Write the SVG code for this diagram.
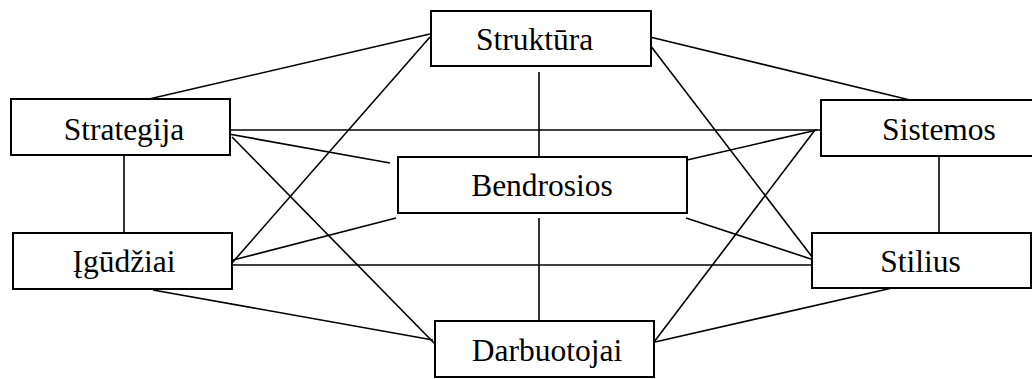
<svg xmlns="http://www.w3.org/2000/svg" width="1032" height="379" viewBox="0 0 1032 379">
<style>
.box{fill:#fff;stroke:#000;stroke-width:2}
.lbl{font-family:'Liberation Serif','Times New Roman',Times,'DejaVu Serif',serif;font-size:31.5px;fill:#000;text-anchor:middle}
.conn line{stroke:#000;stroke-width:1.6}
</style>
<rect width="1032" height="379" fill="#fff"/>
<g id="connectors" class="conn">
<line x1="136" y1="102" x2="430" y2="34"/>
<line x1="430" y1="37" x2="232" y2="263"/>
<line x1="230" y1="130" x2="822" y2="130"/>
<line x1="223" y1="133" x2="390" y2="163"/>
<line x1="232" y1="137" x2="435" y2="344"/>
<line x1="650" y1="37" x2="910" y2="100"/>
<line x1="650" y1="45" x2="816" y2="262"/>
<line x1="539" y1="72" x2="539" y2="162"/>
<line x1="687" y1="160" x2="817" y2="130"/>
<line x1="815" y1="130" x2="654" y2="342"/>
<line x1="939" y1="156" x2="939" y2="234"/>
<line x1="124" y1="155" x2="124" y2="238"/>
<line x1="396" y1="218" x2="233" y2="260"/>
<line x1="230" y1="265" x2="817" y2="265"/>
<line x1="686" y1="218" x2="817" y2="261"/>
<line x1="539" y1="218" x2="539" y2="323"/>
<line x1="153" y1="290" x2="433" y2="340"/>
<line x1="914" y1="283" x2="655" y2="342"/>
</g>
<g id="struktura"><rect class="box" x="431" y="11" width="220" height="55"/><text class="lbl" font-family="Liberation Serif, serif" x="534.5" y="50">Struktūra</text></g>
<g id="strategija"><rect class="box" x="11" y="99" width="219" height="56"/><text class="lbl" font-family="Liberation Serif, serif" x="124" y="140">Strategija</text></g>
<g id="sistemos"><rect class="box" x="821" y="100" width="215" height="56"/><text class="lbl" font-family="Liberation Serif, serif" x="939" y="140">Sistemos</text></g>
<g id="bendrosios"><rect class="box" x="398" y="157" width="289" height="56"/><text class="lbl" font-family="Liberation Serif, serif" x="542" y="196">Bendrosios</text></g>
<g id="igudziai"><rect class="box" x="13" y="233" width="219" height="56"/><text class="lbl" font-family="Liberation Serif, serif" x="124" y="272">Įgūdžiai</text></g>
<g id="stilius"><rect class="box" x="812" y="233" width="219" height="55"/><text class="lbl" font-family="Liberation Serif, serif" x="920.5" y="272">Stilius</text></g>
<g id="darbuotojai"><rect class="box" x="435" y="321" width="219" height="56"/><text class="lbl" font-family="Liberation Serif, serif" x="547" y="361">Darbuotojai</text></g>
</svg>
